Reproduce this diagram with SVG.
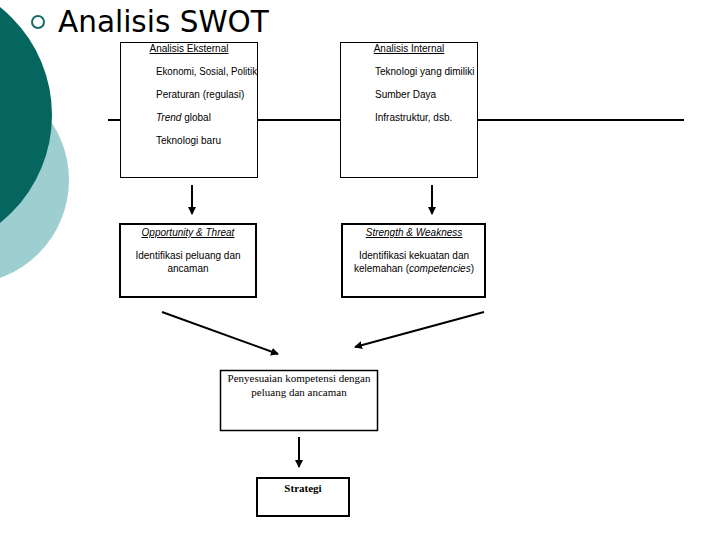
<svg xmlns="http://www.w3.org/2000/svg" width="720" height="540" viewBox="0 0 720 540">
<style>
.sans{font-family:"Liberation Sans",Arial,sans-serif;font-size:10px;fill:#000}
.serif{font-family:"Liberation Serif","Times New Roman",serif;font-size:11px;fill:#000}
.box{fill:#fff;stroke:#000}
.conn{stroke:#000;stroke-width:2;fill:none}
</style>
<defs>
<marker id="ah" markerWidth="8" markerHeight="8" refX="7" refY="4" orient="auto" markerUnits="userSpaceOnUse">
<path d="M0,0 L8,4 L0,8 Z" fill="#000"/>
</marker>
</defs>
<rect width="720" height="540" fill="#fff"/>
<g id="decor">
<circle cx="-35" cy="180" r="104" fill="#9ecfd0"/>
<circle cx="-86" cy="115" r="138" fill="#05655f"/>
<circle cx="38" cy="22" r="6" fill="none" stroke="#1a6a68" stroke-width="2"/>
<text x="58" y="32" style="font-family:'DejaVu Sans',Verdana,sans-serif;font-size:29.5px;fill:#000">Analisis SWOT</text>
</g>
<g id="connectors">
<line x1="108" y1="120" x2="684" y2="120" stroke="#000" stroke-width="2"/>
<line class="conn" x1="192" y1="185" x2="192" y2="214" marker-end="url(#ah)"/>
<line class="conn" x1="432" y1="185" x2="432" y2="214" marker-end="url(#ah)"/>
<line class="conn" x1="162" y1="312" x2="278" y2="354" marker-end="url(#ah)"/>
<line class="conn" x1="484" y1="312" x2="355" y2="347" marker-end="url(#ah)"/>
<line class="conn" x1="299" y1="437" x2="299" y2="467" marker-end="url(#ah)"/>
</g>
<g id="eksternal">
<rect class="box" x="120.5" y="42.5" width="137" height="135" stroke-width="1"/>
<text class="sans" x="189" y="52" text-anchor="middle" text-decoration="underline">Analisis Eksternal</text>
<text class="sans" x="156" y="75" textLength="101" lengthAdjust="spacingAndGlyphs">Ekonomi, Sosial, Politik</text>
<text class="sans" x="156" y="98">Peraturan (regulasi)</text>
<text class="sans" x="156" y="121"><tspan font-style="italic">Trend</tspan> global</text>
<text class="sans" x="156" y="144">Teknologi baru</text>
</g>
<g id="internal">
<rect class="box" x="340.5" y="42.5" width="137" height="135" stroke-width="1"/>
<text class="sans" x="409" y="52" text-anchor="middle" text-decoration="underline">Analisis Internal</text>
<text class="sans" x="375" y="75">Teknologi yang dimiliki</text>
<text class="sans" x="375" y="98">Sumber Daya</text>
<text class="sans" x="375" y="121">Infrastruktur, dsb.</text>
</g>
<g id="ot">
<rect class="box" x="120" y="224" width="136" height="73" stroke-width="2"/>
<text class="sans" x="188" y="236" text-anchor="middle" font-style="italic" text-decoration="underline">Opportunity &amp; Threat</text>
<text class="sans" x="188" y="259" text-anchor="middle">Identifikasi peluang dan</text>
<text class="sans" x="188" y="272" text-anchor="middle">ancaman</text>
</g>
<g id="sw">
<rect class="box" x="342" y="224" width="143" height="73" stroke-width="2"/>
<text class="sans" x="414" y="236" text-anchor="middle" font-style="italic" text-decoration="underline">Strength &amp; Weakness</text>
<text class="sans" x="414" y="259" text-anchor="middle">Identifikasi kekuatan dan</text>
<text class="sans" x="414" y="272" text-anchor="middle">kelemahan (<tspan font-style="italic">competencies</tspan>)</text>
</g>
<g id="penyesuaian">
<rect class="box" x="220.5" y="370.5" width="157" height="60" stroke-width="1.5"/>
<text class="serif" x="299" y="382" text-anchor="middle">Penyesuaian kompetensi dengan</text>
<text class="serif" x="299" y="396" text-anchor="middle">peluang dan ancaman</text>
</g>
<g id="strategi">
<rect class="box" x="257" y="478" width="92" height="38" stroke-width="2"/>
<text class="serif" x="303" y="492" text-anchor="middle" font-weight="bold" font-size="13">Strategi</text>
</g>
</svg>
